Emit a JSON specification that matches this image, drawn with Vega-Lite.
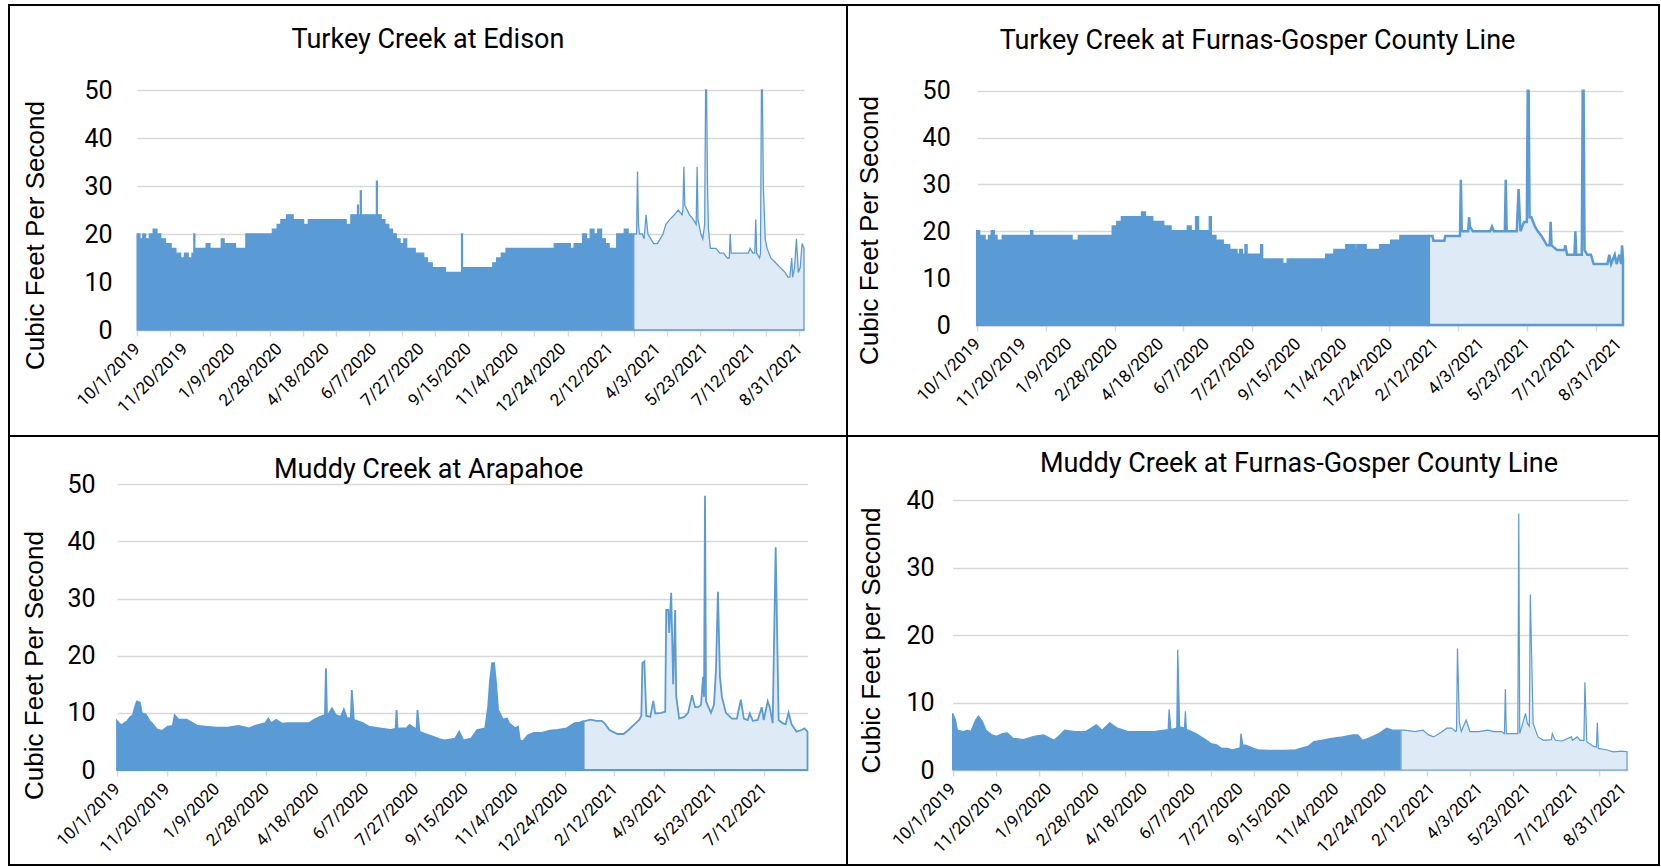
{
  "$schema": "https://vega.github.io/schema/vega-lite/v6.json",
  "padding": {"left": 8, "top": 4, "right": 0, "bottom": 0},
  "background": "white",
  "bounds": "flush",
  "spacing": 0,
  "columns": 2,
  "config": {
    "view": {"stroke": "#000000", "strokeWidth": 2},
    "font": "Roboto",
    "axis": {"labelFont": "Roboto", "labelColor": "#000000", "titleColor": "#000000", "gridColor": "#D9D9D9", "gridWidth": 1.5, "domainColor": "#D9D9D9", "domainWidth": 1.5, "tickColor": "#D9D9D9", "tickWidth": 1.5},
    "title": {"font": "Roboto", "fontSize": 27, "fontWeight": "normal", "color": "#000000", "frame": "group", "anchor": "middle", "baseline": "alphabetic"}
  },
  "datasets": {
    "edison": [
      {"date":"2019-10-01","cfs":20,"status":"A"},{"date":"2019-10-04","cfs":19,"status":"A"},{"date":"2019-10-07","cfs":20,"status":"A"},{"date":"2019-10-10","cfs":19,"status":"A"},{"date":"2019-10-14","cfs":20,"status":"A"},{"date":"2019-10-18","cfs":21,"status":"A"},{"date":"2019-10-22","cfs":20,"status":"A"},{"date":"2019-10-26","cfs":19,"status":"A"},{"date":"2019-10-31","cfs":18,"status":"A"},{"date":"2019-11-06","cfs":17,"status":"A"},{"date":"2019-11-11","cfs":16,"status":"A"},{"date":"2019-11-16","cfs":15,"status":"A"},{"date":"2019-11-20","cfs":16,"status":"A"},{"date":"2019-11-24","cfs":15,"status":"A"},{"date":"2019-11-28","cfs":16,"status":"A"},{"date":"2019-11-30","cfs":20,"status":"A"},{"date":"2019-12-01","cfs":17,"status":"A"},{"date":"2019-12-10","cfs":17,"status":"A"},{"date":"2019-12-13","cfs":18,"status":"A"},{"date":"2019-12-17","cfs":17,"status":"A"},{"date":"2019-12-26","cfs":17,"status":"A"},{"date":"2019-12-29","cfs":19,"status":"A"},
      {"date":"2020-01-01","cfs":18,"status":"A"},{"date":"2020-01-09","cfs":18,"status":"A"},{"date":"2020-01-13","cfs":17,"status":"A"},{"date":"2020-01-21","cfs":17,"status":"A"},{"date":"2020-01-24","cfs":20,"status":"A"},{"date":"2020-02-18","cfs":20,"status":"A"},{"date":"2020-02-21","cfs":21,"status":"A"},{"date":"2020-02-26","cfs":22,"status":"A"},{"date":"2020-03-01","cfs":23,"status":"A"},{"date":"2020-03-07","cfs":24,"status":"A"},{"date":"2020-03-14","cfs":23,"status":"A"},{"date":"2020-03-21","cfs":23,"status":"A"},{"date":"2020-03-25","cfs":22,"status":"A"},{"date":"2020-03-30","cfs":23,"status":"A"},{"date":"2020-04-11","cfs":23,"status":"A"},{"date":"2020-04-23","cfs":23,"status":"A"},{"date":"2020-05-03","cfs":23,"status":"A"},{"date":"2020-05-09","cfs":22,"status":"A"},{"date":"2020-05-14","cfs":24,"status":"A"},{"date":"2020-05-18","cfs":24,"status":"A"},{"date":"2020-05-21","cfs":26,"status":"A"},{"date":"2020-05-22","cfs":24,"status":"A"},{"date":"2020-05-24","cfs":29,"status":"A"},{"date":"2020-05-25","cfs":24,"status":"A"},{"date":"2020-06-02","cfs":24,"status":"A"},{"date":"2020-06-08","cfs":24,"status":"A"},{"date":"2020-06-10","cfs":31,"status":"A"},{"date":"2020-06-11","cfs":24,"status":"A"},{"date":"2020-06-15","cfs":23,"status":"A"},{"date":"2020-06-19","cfs":22,"status":"A"},{"date":"2020-06-23","cfs":21,"status":"A"},{"date":"2020-06-27","cfs":20,"status":"A"},{"date":"2020-07-01","cfs":19,"status":"A"},{"date":"2020-07-05","cfs":18,"status":"A"},{"date":"2020-07-09","cfs":19,"status":"A"},{"date":"2020-07-12","cfs":17,"status":"A"},{"date":"2020-07-17","cfs":17,"status":"A"},{"date":"2020-07-21","cfs":16,"status":"A"},{"date":"2020-07-25","cfs":16,"status":"A"},{"date":"2020-07-30","cfs":15,"status":"A"},{"date":"2020-08-03","cfs":14,"status":"A"},{"date":"2020-08-08","cfs":13,"status":"A"},{"date":"2020-08-16","cfs":13,"status":"A"},{"date":"2020-08-22","cfs":12,"status":"A"},{"date":"2020-08-29","cfs":12,"status":"A"},{"date":"2020-09-02","cfs":12,"status":"A"},{"date":"2020-09-08","cfs":20,"status":"A"},{"date":"2020-09-09","cfs":13,"status":"A"},{"date":"2020-09-25","cfs":13,"status":"A"},{"date":"2020-10-07","cfs":13,"status":"A"},{"date":"2020-10-11","cfs":14,"status":"A"},{"date":"2020-10-15","cfs":15,"status":"A"},{"date":"2020-10-20","cfs":16,"status":"A"},{"date":"2020-10-25","cfs":17,"status":"A"},{"date":"2020-11-04","cfs":17,"status":"A"},{"date":"2020-11-24","cfs":17,"status":"A"},{"date":"2020-12-13","cfs":17,"status":"A"},{"date":"2020-12-15","cfs":18,"status":"A"},{"date":"2020-12-29","cfs":18,"status":"A"},
      {"date":"2021-01-01","cfs":17,"status":"A"},{"date":"2021-01-05","cfs":18,"status":"A"},{"date":"2021-01-11","cfs":18,"status":"A"},{"date":"2021-01-14","cfs":20,"status":"A"},{"date":"2021-01-18","cfs":19,"status":"A"},{"date":"2021-01-22","cfs":21,"status":"A"},{"date":"2021-01-26","cfs":20,"status":"A"},{"date":"2021-01-30","cfs":21,"status":"A"},{"date":"2021-02-03","cfs":19,"status":"A"},{"date":"2021-02-07","cfs":18,"status":"A"},{"date":"2021-02-11","cfs":17,"status":"A"},{"date":"2021-02-15","cfs":17,"status":"A"},{"date":"2021-02-19","cfs":20,"status":"A"},{"date":"2021-02-23","cfs":20,"status":"A"},{"date":"2021-02-27","cfs":21,"status":"A"},{"date":"2021-03-03","cfs":20,"status":"A"},{"date":"2021-03-08","cfs":20,"status":"A"},
      {"date":"2021-03-09","cfs":20,"status":"P"},{"date":"2021-03-12","cfs":20,"status":"P"},{"date":"2021-03-13","cfs":33,"status":"P"},{"date":"2021-03-14","cfs":22,"status":"P"},{"date":"2021-03-15","cfs":20,"status":"P"},{"date":"2021-03-18","cfs":20,"status":"P"},{"date":"2021-03-20","cfs":19,"status":"P"},{"date":"2021-03-22","cfs":24,"status":"P"},{"date":"2021-03-24","cfs":20,"status":"P"},{"date":"2021-03-27","cfs":19,"status":"P"},{"date":"2021-03-30","cfs":18,"status":"P"},{"date":"2021-04-03","cfs":18,"status":"P"},{"date":"2021-04-06","cfs":19,"status":"P"},{"date":"2021-04-09","cfs":20,"status":"P"},{"date":"2021-04-12","cfs":22,"status":"P"},{"date":"2021-04-16","cfs":23,"status":"P"},{"date":"2021-04-21","cfs":24,"status":"P"},{"date":"2021-04-25","cfs":25,"status":"P"},{"date":"2021-04-29","cfs":24,"status":"P"},{"date":"2021-04-30","cfs":25,"status":"P"},{"date":"2021-05-01","cfs":34,"status":"P"},{"date":"2021-05-02","cfs":26,"status":"P"},{"date":"2021-05-07","cfs":24,"status":"P"},{"date":"2021-05-11","cfs":23,"status":"P"},{"date":"2021-05-14","cfs":22,"status":"P"},{"date":"2021-05-15","cfs":34,"status":"P"},{"date":"2021-05-16","cfs":23,"status":"P"},{"date":"2021-05-19","cfs":20,"status":"P"},{"date":"2021-05-21","cfs":19,"status":"P"},{"date":"2021-05-23","cfs":22,"status":"P"},{"date":"2021-05-24","cfs":150,"status":"P"},{"date":"2021-05-25","cfs":120,"status":"P"},{"date":"2021-05-26","cfs":30,"status":"P"},{"date":"2021-05-27","cfs":21,"status":"P"},{"date":"2021-05-29","cfs":17,"status":"P"},{"date":"2021-06-04","cfs":17,"status":"P"},{"date":"2021-06-08","cfs":16,"status":"P"},{"date":"2021-06-12","cfs":16,"status":"P"},{"date":"2021-06-16","cfs":15,"status":"P"},{"date":"2021-06-18","cfs":15,"status":"P"},{"date":"2021-06-19","cfs":20,"status":"P"},{"date":"2021-06-20","cfs":16,"status":"P"},{"date":"2021-07-02","cfs":16,"status":"P"},{"date":"2021-07-08","cfs":16,"status":"P"},{"date":"2021-07-10","cfs":17,"status":"P"},{"date":"2021-07-13","cfs":16,"status":"P"},{"date":"2021-07-15","cfs":16,"status":"P"},{"date":"2021-07-16","cfs":23,"status":"P"},{"date":"2021-07-17","cfs":16,"status":"P"},{"date":"2021-07-20","cfs":15,"status":"P"},{"date":"2021-07-21","cfs":16,"status":"P"},{"date":"2021-07-22","cfs":150,"status":"P"},{"date":"2021-07-23","cfs":110,"status":"P"},{"date":"2021-07-24","cfs":30,"status":"P"},{"date":"2021-07-26","cfs":19,"status":"P"},{"date":"2021-07-28","cfs":17,"status":"P"},{"date":"2021-08-01","cfs":15,"status":"P"},{"date":"2021-08-06","cfs":14,"status":"P"},{"date":"2021-08-11","cfs":13,"status":"P"},{"date":"2021-08-16","cfs":12,"status":"P"},{"date":"2021-08-19","cfs":11,"status":"P"},{"date":"2021-08-21","cfs":11,"status":"P"},{"date":"2021-08-23","cfs":15,"status":"P"},{"date":"2021-08-24","cfs":11,"status":"P"},{"date":"2021-08-26","cfs":13,"status":"P"},{"date":"2021-08-28","cfs":19,"status":"P"},{"date":"2021-08-30","cfs":12,"status":"P"},{"date":"2021-09-01","cfs":13,"status":"P"},{"date":"2021-09-03","cfs":18,"status":"P"},{"date":"2021-09-05","cfs":17,"status":"P"}
    ],
    "turkeyFG": [
      {"date":"2019-10-01","cfs":20,"status":"A"},{"date":"2019-10-03","cfs":19,"status":"A"},{"date":"2019-10-05","cfs":18,"status":"A"},{"date":"2019-10-07","cfs":19,"status":"A"},{"date":"2019-10-09","cfs":18,"status":"A"},{"date":"2019-10-14","cfs":19,"status":"A"},{"date":"2019-10-17","cfs":20,"status":"A"},{"date":"2019-10-19","cfs":19,"status":"A"},{"date":"2019-10-22","cfs":18,"status":"A"},{"date":"2019-10-29","cfs":19,"status":"A"},{"date":"2019-11-29","cfs":20,"status":"A"},{"date":"2019-11-30","cfs":19,"status":"A"},
      {"date":"2020-01-12","cfs":18,"status":"A"},{"date":"2020-01-20","cfs":19,"status":"A"},{"date":"2020-02-26","cfs":21,"status":"A"},{"date":"2020-03-02","cfs":22,"status":"A"},{"date":"2020-03-07","cfs":23,"status":"A"},{"date":"2020-03-29","cfs":24,"status":"A"},{"date":"2020-04-01","cfs":23,"status":"A"},{"date":"2020-04-09","cfs":22,"status":"A"},{"date":"2020-04-21","cfs":21,"status":"A"},{"date":"2020-04-29","cfs":20,"status":"A"},{"date":"2020-05-18","cfs":21,"status":"A"},{"date":"2020-05-21","cfs":20,"status":"A"},{"date":"2020-05-27","cfs":23,"status":"A"},{"date":"2020-05-29","cfs":20,"status":"A"},{"date":"2020-06-11","cfs":23,"status":"A"},{"date":"2020-06-12","cfs":19,"status":"A"},{"date":"2020-06-17","cfs":18,"status":"A"},{"date":"2020-06-25","cfs":17,"status":"A"},{"date":"2020-07-02","cfs":16,"status":"A"},{"date":"2020-07-10","cfs":15,"status":"A"},{"date":"2020-07-14","cfs":16,"status":"A"},{"date":"2020-07-16","cfs":15,"status":"A"},{"date":"2020-07-20","cfs":17,"status":"A"},{"date":"2020-07-21","cfs":15,"status":"A"},{"date":"2020-08-06","cfs":17,"status":"A"},{"date":"2020-08-07","cfs":14,"status":"A"},{"date":"2020-08-29","cfs":13,"status":"A"},{"date":"2020-09-04","cfs":14,"status":"A"},{"date":"2020-10-16","cfs":15,"status":"A"},{"date":"2020-10-25","cfs":16,"status":"A"},{"date":"2020-11-07","cfs":17,"status":"A"},{"date":"2020-11-16","cfs":16,"status":"A"},{"date":"2020-11-19","cfs":17,"status":"A"},{"date":"2020-11-28","cfs":16,"status":"A"},{"date":"2020-12-14","cfs":17,"status":"A"},{"date":"2020-12-26","cfs":18,"status":"A"},
      {"date":"2021-01-05","cfs":19,"status":"A"},{"date":"2021-02-04","cfs":19,"status":"A"},
      {"date":"2021-02-05","cfs":19,"status":"P"},{"date":"2021-02-09","cfs":19,"status":"P"},{"date":"2021-02-10","cfs":18,"status":"P"},{"date":"2021-02-22","cfs":18,"status":"P"},{"date":"2021-02-23","cfs":19,"status":"P"},{"date":"2021-03-11","cfs":19,"status":"P"},{"date":"2021-03-12","cfs":31,"status":"P"},{"date":"2021-03-13","cfs":20,"status":"P"},{"date":"2021-03-20","cfs":20,"status":"P"},{"date":"2021-03-21","cfs":23,"status":"P"},{"date":"2021-03-22","cfs":21,"status":"P"},{"date":"2021-03-25","cfs":20,"status":"P"},{"date":"2021-04-13","cfs":20,"status":"P"},{"date":"2021-04-15","cfs":21,"status":"P"},{"date":"2021-04-17","cfs":20,"status":"P"},{"date":"2021-04-29","cfs":20,"status":"P"},{"date":"2021-04-30","cfs":31,"status":"P"},{"date":"2021-05-01","cfs":20,"status":"P"},{"date":"2021-05-12","cfs":20,"status":"P"},{"date":"2021-05-14","cfs":29,"status":"P"},{"date":"2021-05-16","cfs":20,"status":"P"},{"date":"2021-05-20","cfs":22,"status":"P"},{"date":"2021-05-23","cfs":22,"status":"P"},{"date":"2021-05-24","cfs":150,"status":"P"},{"date":"2021-05-25","cfs":110,"status":"P"},{"date":"2021-05-26","cfs":23,"status":"P"},{"date":"2021-05-28","cfs":23,"status":"P"},{"date":"2021-06-01","cfs":21,"status":"P"},{"date":"2021-06-04","cfs":20,"status":"P"},{"date":"2021-06-08","cfs":19,"status":"P"},{"date":"2021-06-11","cfs":18,"status":"P"},{"date":"2021-06-14","cfs":17,"status":"P"},{"date":"2021-06-17","cfs":17,"status":"P"},{"date":"2021-06-18","cfs":22,"status":"P"},{"date":"2021-06-19","cfs":17,"status":"P"},{"date":"2021-06-25","cfs":16,"status":"P"},{"date":"2021-07-03","cfs":16,"status":"P"},{"date":"2021-07-04","cfs":17,"status":"P"},{"date":"2021-07-06","cfs":15,"status":"P"},{"date":"2021-07-14","cfs":15,"status":"P"},{"date":"2021-07-15","cfs":20,"status":"P"},{"date":"2021-07-16","cfs":15,"status":"P"},{"date":"2021-07-22","cfs":15,"status":"P"},{"date":"2021-07-23","cfs":150,"status":"P"},{"date":"2021-07-24","cfs":100,"status":"P"},{"date":"2021-07-25","cfs":16,"status":"P"},{"date":"2021-07-28","cfs":15,"status":"P"},{"date":"2021-08-01","cfs":15,"status":"P"},{"date":"2021-08-04","cfs":13,"status":"P"},{"date":"2021-08-19","cfs":13,"status":"P"},{"date":"2021-08-21","cfs":15,"status":"P"},{"date":"2021-08-23","cfs":13,"status":"P"},{"date":"2021-08-27","cfs":15,"status":"P"},{"date":"2021-08-29","cfs":13,"status":"P"},{"date":"2021-09-01","cfs":15,"status":"P"},{"date":"2021-09-03","cfs":13,"status":"P"},{"date":"2021-09-04","cfs":17,"status":"P"},{"date":"2021-09-05","cfs":14,"status":"P"}
    ],
    "arapahoe": [
      {"date":"2019-10-01","cfs":8.6,"status":"A"},{"date":"2019-10-04","cfs":8.0,"status":"A"},{"date":"2019-10-06","cfs":7.9,"status":"A"},{"date":"2019-10-09","cfs":8.3,"status":"A"},{"date":"2019-10-11","cfs":8.5,"status":"A"},{"date":"2019-10-14","cfs":9.2,"status":"A"},{"date":"2019-10-17","cfs":9.6,"status":"A"},{"date":"2019-10-19","cfs":11,"status":"A"},{"date":"2019-10-21","cfs":12,"status":"A"},{"date":"2019-10-24","cfs":11.8,"status":"A"},{"date":"2019-10-26","cfs":9.9,"status":"A"},{"date":"2019-10-30","cfs":9.7,"status":"A"},{"date":"2019-11-03","cfs":8.5,"status":"A"},{"date":"2019-11-05","cfs":8.2,"status":"A"},{"date":"2019-11-10","cfs":7.1,"status":"A"},{"date":"2019-11-14","cfs":6.9,"status":"A"},{"date":"2019-11-16","cfs":6.9,"status":"A"},{"date":"2019-11-21","cfs":7.6,"status":"A"},{"date":"2019-11-26","cfs":7.7,"status":"A"},{"date":"2019-11-28","cfs":9.6,"status":"A"},{"date":"2019-12-02","cfs":8.8,"status":"A"},{"date":"2019-12-10","cfs":8.8,"status":"A"},{"date":"2019-12-16","cfs":8.2,"status":"A"},{"date":"2019-12-21","cfs":7.7,"status":"A"},{"date":"2019-12-29","cfs":7.6,"status":"A"},
      {"date":"2020-01-09","cfs":7.4,"status":"A"},{"date":"2020-01-20","cfs":7.4,"status":"A"},{"date":"2020-01-31","cfs":7.7,"status":"A"},{"date":"2020-02-11","cfs":7.3,"status":"A"},{"date":"2020-02-16","cfs":7.7,"status":"A"},{"date":"2020-02-27","cfs":8.2,"status":"A"},{"date":"2020-03-01","cfs":9.0,"status":"A"},{"date":"2020-03-04","cfs":8.2,"status":"A"},{"date":"2020-03-09","cfs":8.8,"status":"A"},{"date":"2020-03-15","cfs":8.1,"status":"A"},{"date":"2020-03-20","cfs":8.2,"status":"A"},{"date":"2020-03-31","cfs":8.2,"status":"A"},{"date":"2020-04-11","cfs":8.2,"status":"A"},{"date":"2020-04-16","cfs":8.8,"status":"A"},{"date":"2020-04-22","cfs":9.3,"status":"A"},{"date":"2020-04-27","cfs":9.6,"status":"A"},{"date":"2020-04-28","cfs":17.8,"status":"A"},{"date":"2020-04-29","cfs":10,"status":"A"},{"date":"2020-04-30","cfs":9.6,"status":"A"},{"date":"2020-05-04","cfs":10.8,"status":"A"},{"date":"2020-05-08","cfs":9.6,"status":"A"},{"date":"2020-05-13","cfs":9.3,"status":"A"},{"date":"2020-05-16","cfs":10.6,"status":"A"},{"date":"2020-05-19","cfs":9.1,"status":"A"},{"date":"2020-05-23","cfs":9.0,"status":"A"},{"date":"2020-05-24","cfs":14,"status":"A"},{"date":"2020-05-26","cfs":8.8,"status":"A"},{"date":"2020-06-04","cfs":8.2,"status":"A"},{"date":"2020-06-10","cfs":7.6,"status":"A"},{"date":"2020-06-21","cfs":7.3,"status":"A"},{"date":"2020-07-02","cfs":7.0,"status":"A"},{"date":"2020-07-07","cfs":7.2,"status":"A"},{"date":"2020-07-08","cfs":10.5,"status":"A"},{"date":"2020-07-09","cfs":7.2,"status":"A"},{"date":"2020-07-12","cfs":7.3,"status":"A"},{"date":"2020-07-18","cfs":7.3,"status":"A"},{"date":"2020-07-21","cfs":7.9,"status":"A"},{"date":"2020-07-27","cfs":7.2,"status":"A"},{"date":"2020-07-28","cfs":7.0,"status":"A"},{"date":"2020-07-29","cfs":10.5,"status":"A"},{"date":"2020-07-31","cfs":6.7,"status":"A"},{"date":"2020-08-09","cfs":6.1,"status":"A"},{"date":"2020-08-14","cfs":5.8,"status":"A"},{"date":"2020-08-20","cfs":5.4,"status":"A"},{"date":"2020-08-25","cfs":5.2,"status":"A"},{"date":"2020-09-05","cfs":5.5,"status":"A"},{"date":"2020-09-09","cfs":6.7,"status":"A"},{"date":"2020-09-13","cfs":5.2,"status":"A"},{"date":"2020-09-21","cfs":5.5,"status":"A"},{"date":"2020-09-27","cfs":7.0,"status":"A"},{"date":"2020-10-05","cfs":7.3,"status":"A"},{"date":"2020-10-08","cfs":11,"status":"A"},{"date":"2020-10-10","cfs":15.8,"status":"A"},{"date":"2020-10-12","cfs":18.7,"status":"A"},{"date":"2020-10-14","cfs":18.7,"status":"A"},{"date":"2020-10-16","cfs":15.2,"status":"A"},{"date":"2020-10-18","cfs":10.5,"status":"A"},{"date":"2020-10-23","cfs":8.8,"status":"A"},{"date":"2020-10-27","cfs":9.0,"status":"A"},{"date":"2020-10-29","cfs":8.2,"status":"A"},{"date":"2020-11-04","cfs":7.3,"status":"A"},{"date":"2020-11-07","cfs":7.6,"status":"A"},{"date":"2020-11-09","cfs":5.2,"status":"A"},{"date":"2020-11-12","cfs":5.0,"status":"A"},{"date":"2020-11-17","cfs":6.1,"status":"A"},{"date":"2020-11-23","cfs":6.5,"status":"A"},{"date":"2020-12-01","cfs":6.5,"status":"A"},{"date":"2020-12-09","cfs":6.9,"status":"A"},{"date":"2020-12-17","cfs":7.0,"status":"A"},{"date":"2020-12-26","cfs":7.3,"status":"A"},
      {"date":"2021-01-03","cfs":8.2,"status":"A"},{"date":"2021-01-08","cfs":8.3,"status":"A"},{"date":"2021-01-11","cfs":8.5,"status":"A"},
      {"date":"2021-01-12","cfs":8.5,"status":"P"},{"date":"2021-01-19","cfs":8.8,"status":"P"},{"date":"2021-01-25","cfs":8.6,"status":"P"},{"date":"2021-01-30","cfs":8.6,"status":"P"},{"date":"2021-02-02","cfs":8.2,"status":"P"},{"date":"2021-02-07","cfs":7.0,"status":"P"},{"date":"2021-02-15","cfs":6.3,"status":"P"},{"date":"2021-02-21","cfs":6.3,"status":"P"},{"date":"2021-02-26","cfs":7.0,"status":"P"},{"date":"2021-03-04","cfs":8.0,"status":"P"},{"date":"2021-03-09","cfs":8.8,"status":"P"},{"date":"2021-03-11","cfs":9.5,"status":"P"},{"date":"2021-03-12","cfs":18.7,"status":"P"},{"date":"2021-03-14","cfs":19,"status":"P"},{"date":"2021-03-16","cfs":9.5,"status":"P"},{"date":"2021-03-20","cfs":9.3,"status":"P"},{"date":"2021-03-23","cfs":12.1,"status":"P"},{"date":"2021-03-25","cfs":9.9,"status":"P"},{"date":"2021-03-31","cfs":10,"status":"P"},{"date":"2021-04-04","cfs":10.2,"status":"P"},{"date":"2021-04-05","cfs":28,"status":"P"},{"date":"2021-04-07","cfs":28,"status":"P"},{"date":"2021-04-08","cfs":24,"status":"P"},{"date":"2021-04-10","cfs":31,"status":"P"},{"date":"2021-04-12","cfs":15,"status":"P"},{"date":"2021-04-14","cfs":28,"status":"P"},{"date":"2021-04-15","cfs":13,"status":"P"},{"date":"2021-04-18","cfs":9,"status":"P"},{"date":"2021-04-23","cfs":9.3,"status":"P"},{"date":"2021-04-27","cfs":10,"status":"P"},{"date":"2021-05-01","cfs":13.1,"status":"P"},{"date":"2021-05-04","cfs":11,"status":"P"},{"date":"2021-05-07","cfs":11,"status":"P"},{"date":"2021-05-10","cfs":11.4,"status":"P"},{"date":"2021-05-12","cfs":16.3,"status":"P"},{"date":"2021-05-13","cfs":12.8,"status":"P"},{"date":"2021-05-14","cfs":48,"status":"P"},{"date":"2021-05-15","cfs":12,"status":"P"},{"date":"2021-05-20","cfs":10,"status":"P"},{"date":"2021-05-23","cfs":11.4,"status":"P"},{"date":"2021-05-25","cfs":17.5,"status":"P"},{"date":"2021-05-27","cfs":31.2,"status":"P"},{"date":"2021-05-29","cfs":16.3,"status":"P"},{"date":"2021-05-31","cfs":12.8,"status":"P"},{"date":"2021-06-04","cfs":10,"status":"P"},{"date":"2021-06-10","cfs":9,"status":"P"},{"date":"2021-06-15","cfs":9,"status":"P"},{"date":"2021-06-19","cfs":12.3,"status":"P"},{"date":"2021-06-22","cfs":9,"status":"P"},{"date":"2021-06-26","cfs":8.75,"status":"P"},{"date":"2021-06-28","cfs":9.9,"status":"P"},{"date":"2021-07-01","cfs":8.6,"status":"P"},{"date":"2021-07-06","cfs":8.75,"status":"P"},{"date":"2021-07-10","cfs":11,"status":"P"},{"date":"2021-07-12","cfs":8.75,"status":"P"},{"date":"2021-07-16","cfs":12,"status":"P"},{"date":"2021-07-18","cfs":11,"status":"P"},{"date":"2021-07-21","cfs":8.2,"status":"P"},{"date":"2021-07-24","cfs":39,"status":"P"},{"date":"2021-07-27","cfs":8.75,"status":"P"},{"date":"2021-07-31","cfs":8.2,"status":"P"},{"date":"2021-08-03","cfs":8.0,"status":"P"},{"date":"2021-08-06","cfs":10,"status":"P"},{"date":"2021-08-09","cfs":8.0,"status":"P"},{"date":"2021-08-14","cfs":6.7,"status":"P"},{"date":"2021-08-19","cfs":7.0,"status":"P"},{"date":"2021-08-22","cfs":7.3,"status":"P"},{"date":"2021-08-25","cfs":6.7,"status":"P"}
    ],
    "muddyFG": [
      {"date":"2019-10-01","cfs":8.4,"status":"A"},{"date":"2019-10-04","cfs":7.4,"status":"A"},{"date":"2019-10-06","cfs":5.9,"status":"A"},{"date":"2019-10-12","cfs":5.7,"status":"A"},{"date":"2019-10-17","cfs":5.9,"status":"A"},{"date":"2019-10-20","cfs":5.7,"status":"A"},{"date":"2019-10-25","cfs":7.4,"status":"A"},{"date":"2019-10-28","cfs":8.0,"status":"A"},{"date":"2019-11-01","cfs":7.2,"status":"A"},{"date":"2019-11-05","cfs":5.9,"status":"A"},{"date":"2019-11-11","cfs":5.2,"status":"A"},{"date":"2019-11-16","cfs":5.0,"status":"A"},{"date":"2019-11-22","cfs":5.4,"status":"A"},{"date":"2019-11-27","cfs":5.5,"status":"A"},{"date":"2019-12-03","cfs":4.7,"status":"A"},{"date":"2019-12-14","cfs":4.5,"status":"A"},{"date":"2019-12-25","cfs":5.0,"status":"A"},
      {"date":"2020-01-04","cfs":5.2,"status":"A"},{"date":"2020-01-15","cfs":4.4,"status":"A"},{"date":"2020-01-21","cfs":5.2,"status":"A"},{"date":"2020-01-26","cfs":5.9,"status":"A"},{"date":"2020-02-06","cfs":5.7,"status":"A"},{"date":"2020-02-17","cfs":5.7,"status":"A"},{"date":"2020-02-28","cfs":6.7,"status":"A"},{"date":"2020-03-05","cfs":5.9,"status":"A"},{"date":"2020-03-13","cfs":7.0,"status":"A"},{"date":"2020-03-21","cfs":6.2,"status":"A"},{"date":"2020-04-01","cfs":5.7,"status":"A"},{"date":"2020-04-12","cfs":5.7,"status":"A"},{"date":"2020-04-28","cfs":5.7,"status":"A"},{"date":"2020-05-09","cfs":5.9,"status":"A"},{"date":"2020-05-13","cfs":6.0,"status":"A"},{"date":"2020-05-14","cfs":9,"status":"A"},{"date":"2020-05-16","cfs":6.0,"status":"A"},{"date":"2020-05-22","cfs":6.2,"status":"A"},{"date":"2020-05-23","cfs":17.8,"status":"A"},{"date":"2020-05-25","cfs":6.4,"status":"A"},{"date":"2020-05-30","cfs":6.2,"status":"A"},{"date":"2020-05-31","cfs":8.7,"status":"A"},{"date":"2020-06-01","cfs":6.0,"status":"A"},{"date":"2020-06-03","cfs":5.9,"status":"A"},{"date":"2020-06-11","cfs":5.4,"status":"A"},{"date":"2020-06-22","cfs":4.4,"status":"A"},{"date":"2020-06-27","cfs":3.9,"status":"A"},{"date":"2020-07-03","cfs":3.7,"status":"A"},{"date":"2020-07-08","cfs":3.2,"status":"A"},{"date":"2020-07-14","cfs":3.2,"status":"A"},{"date":"2020-07-19","cfs":3.0,"status":"A"},{"date":"2020-07-25","cfs":3.2,"status":"A"},{"date":"2020-07-27","cfs":3.3,"status":"A"},{"date":"2020-07-28","cfs":5.4,"status":"A"},{"date":"2020-07-30","cfs":3.7,"status":"A"},{"date":"2020-08-02","cfs":3.7,"status":"A"},{"date":"2020-08-10","cfs":3.2,"status":"A"},{"date":"2020-08-15","cfs":3.0,"status":"A"},{"date":"2020-08-26","cfs":2.9,"status":"A"},{"date":"2020-09-12","cfs":2.9,"status":"A"},{"date":"2020-09-23","cfs":3.0,"status":"A"},{"date":"2020-09-28","cfs":3.2,"status":"A"},{"date":"2020-10-06","cfs":3.5,"status":"A"},{"date":"2020-10-12","cfs":4.2,"status":"A"},{"date":"2020-10-20","cfs":4.4,"status":"A"},{"date":"2020-10-31","cfs":4.7,"status":"A"},{"date":"2020-11-11","cfs":4.9,"status":"A"},{"date":"2020-11-22","cfs":5.2,"status":"A"},{"date":"2020-11-27","cfs":5.2,"status":"A"},{"date":"2020-12-02","cfs":4.4,"status":"A"},{"date":"2020-12-08","cfs":4.7,"status":"A"},{"date":"2020-12-19","cfs":5.4,"status":"A"},{"date":"2020-12-27","cfs":6.2,"status":"A"},
      {"date":"2021-01-02","cfs":5.9,"status":"A"},{"date":"2021-01-10","cfs":5.9,"status":"A"},
      {"date":"2021-01-11","cfs":5.9,"status":"P"},{"date":"2021-01-15","cfs":5.9,"status":"P"},{"date":"2021-01-26","cfs":5.7,"status":"P"},{"date":"2021-02-03","cfs":5.9,"status":"P"},{"date":"2021-02-09","cfs":5.2,"status":"P"},{"date":"2021-02-14","cfs":4.9,"status":"P"},{"date":"2021-02-20","cfs":5.4,"status":"P"},{"date":"2021-02-28","cfs":6.2,"status":"P"},{"date":"2021-03-05","cfs":6.2,"status":"P"},{"date":"2021-03-09","cfs":5.7,"status":"P"},{"date":"2021-03-10","cfs":5.8,"status":"P"},{"date":"2021-03-11","cfs":18,"status":"P"},{"date":"2021-03-13","cfs":7.0,"status":"P"},{"date":"2021-03-15","cfs":5.7,"status":"P"},{"date":"2021-03-20","cfs":7.4,"status":"P"},{"date":"2021-03-24","cfs":5.7,"status":"P"},{"date":"2021-04-02","cfs":5.7,"status":"P"},{"date":"2021-04-12","cfs":5.9,"status":"P"},{"date":"2021-04-18","cfs":5.7,"status":"P"},{"date":"2021-04-26","cfs":5.7,"status":"P"},{"date":"2021-04-29","cfs":5.4,"status":"P"},{"date":"2021-04-30","cfs":12,"status":"P"},{"date":"2021-05-01","cfs":5.4,"status":"P"},{"date":"2021-05-13","cfs":5.4,"status":"P"},{"date":"2021-05-14","cfs":38,"status":"P"},{"date":"2021-05-15","cfs":5.4,"status":"P"},{"date":"2021-05-21","cfs":8.4,"status":"P"},{"date":"2021-05-23","cfs":6.9,"status":"P"},{"date":"2021-05-25","cfs":6.5,"status":"P"},{"date":"2021-05-26","cfs":26,"status":"P"},{"date":"2021-05-29","cfs":6.9,"status":"P"},{"date":"2021-06-03","cfs":4.9,"status":"P"},{"date":"2021-06-09","cfs":4.4,"status":"P"},{"date":"2021-06-17","cfs":4.5,"status":"P"},{"date":"2021-06-18","cfs":5.4,"status":"P"},{"date":"2021-06-21","cfs":4.4,"status":"P"},{"date":"2021-06-28","cfs":4.3,"status":"P"},{"date":"2021-07-08","cfs":4.9,"status":"P"},{"date":"2021-07-09","cfs":4.4,"status":"P"},{"date":"2021-07-14","cfs":4.9,"status":"P"},{"date":"2021-07-17","cfs":4.4,"status":"P"},{"date":"2021-07-21","cfs":4.4,"status":"P"},{"date":"2021-07-22","cfs":13,"status":"P"},{"date":"2021-07-24","cfs":4.2,"status":"P"},{"date":"2021-07-31","cfs":3.5,"status":"P"},{"date":"2021-08-03","cfs":3.4,"status":"P"},{"date":"2021-08-04","cfs":7,"status":"P"},{"date":"2021-08-05","cfs":3.2,"status":"P"},{"date":"2021-08-13","cfs":3.0,"status":"P"},{"date":"2021-08-21","cfs":2.7,"status":"P"},{"date":"2021-08-29","cfs":2.8,"status":"P"},{"date":"2021-09-04","cfs":2.7,"status":"P"}
    ]
  },
  "concat": [
    {
      "width": 838, "height": 431,
      "title": {"text": "Turkey Creek at Edison", "offset": -49.3},
      "data": {"name": "edison"},
      "layer": [
        {
          "transform": [{"filter": "datum.status === 'A'"}],
          "mark": {"type": "area", "interpolate": "step-after", "fill": "#5B9BD5", "stroke": "#5B9BD5", "strokeWidth": 1.3},
          "encoding": {
            "x": {"field": "date", "type": "temporal",
              "scale": {"type": "utc", "domain": [{"year":2019,"month":10,"date":1,"utc":true},{"year":2021,"month":9,"date":5,"utc":true}], "range": [128.1, 795]},
              "axis": {"orient": "bottom", "offset": -106, "labels": false, "ticks": true, "tickSize": 6, "domain": true, "grid": false, "title": null,
                "values": [{"year":2019,"month":10,"date":1,"utc":true},{"year":2019,"month":11,"date":5,"utc":true},{"year":2019,"month":12,"date":10,"utc":true},{"year":2020,"month":1,"date":14,"utc":true},{"year":2020,"month":2,"date":18,"utc":true},{"year":2020,"month":3,"date":24,"utc":true},{"year":2020,"month":4,"date":28,"utc":true},{"year":2020,"month":6,"date":2,"utc":true},{"year":2020,"month":7,"date":7,"utc":true},{"year":2020,"month":8,"date":11,"utc":true},{"year":2020,"month":9,"date":15,"utc":true},{"year":2020,"month":10,"date":20,"utc":true},{"year":2020,"month":11,"date":24,"utc":true},{"year":2020,"month":12,"date":29,"utc":true},{"year":2021,"month":2,"date":2,"utc":true},{"year":2021,"month":3,"date":9,"utc":true},{"year":2021,"month":4,"date":13,"utc":true},{"year":2021,"month":5,"date":18,"utc":true},{"year":2021,"month":6,"date":22,"utc":true},{"year":2021,"month":7,"date":27,"utc":true},{"year":2021,"month":8,"date":31,"utc":true}]}},
            "y": {"field": "cfs", "type": "quantitative",
              "scale": {"domain": [0, 50], "range": [325, 85], "clamp": true, "nice": false},
              "axis": {"offset": -128.1, "values": [0,10,20,30,40,50], "grid": true, "domain": false, "ticks": false, "tickSize": 0, "labelPadding": 25, "labelFontSize": 25,
                "title": "Cubic Feet Per Second", "titleFont": "Liberation Sans", "titleFontSize": 26, "titleFontWeight": "normal", "titleX": -94, "titleY": 230, "titleAngle": -90, "titleAlign": "center", "titleBaseline": "alphabetic"}}
          }
        },
        {
          "transform": [{"filter": "datum.status === 'P'"}],
          "mark": {"type": "area", "fill": "#DEEAF6", "stroke": "#5B9BD5", "strokeWidth": 1.3},
          "encoding": {
            "x": {"field": "date", "type": "temporal",
              "scale": {"type": "utc", "domain": [{"year":2019,"month":10,"date":1,"utc":true},{"year":2021,"month":9,"date":5,"utc":true}], "range": [128.1, 795]},
              "axis": {"orient": "bottom", "offset": -106, "labels": true, "ticks": false, "tickSize": 0, "domain": false, "grid": false, "title": null,
                "labelAngle": -45, "labelAlign": "right", "labelBaseline": "middle", "labelPadding": 16, "labelFontSize": 17, "labelOverlap": false, "labelFlush": false, "labelExpr": "utcFormat(datum.value, '%-m/%-d/%Y')",
                "values": [{"year":2019,"month":10,"date":1,"utc":true},{"year":2019,"month":11,"date":20,"utc":true},{"year":2020,"month":1,"date":9,"utc":true},{"year":2020,"month":2,"date":28,"utc":true},{"year":2020,"month":4,"date":18,"utc":true},{"year":2020,"month":6,"date":7,"utc":true},{"year":2020,"month":7,"date":27,"utc":true},{"year":2020,"month":9,"date":15,"utc":true},{"year":2020,"month":11,"date":4,"utc":true},{"year":2020,"month":12,"date":24,"utc":true},{"year":2021,"month":2,"date":12,"utc":true},{"year":2021,"month":4,"date":3,"utc":true},{"year":2021,"month":5,"date":23,"utc":true},{"year":2021,"month":7,"date":12,"utc":true},{"year":2021,"month":8,"date":31,"utc":true}]}},
            "y": {"field": "cfs", "type": "quantitative",
              "scale": {"domain": [0, 50], "range": [325, 85], "clamp": true, "nice": false},
              "axis": {"offset": -128.1, "values": [0,10,20,30,40,50], "grid": true, "domain": false, "ticks": false, "tickSize": 0, "labelPadding": 25, "labelFontSize": 25,
                "title": "Cubic Feet Per Second", "titleFont": "Liberation Sans", "titleFontSize": 26, "titleFontWeight": "normal", "titleX": -94, "titleY": 230, "titleAngle": -90, "titleAlign": "center", "titleBaseline": "alphabetic"}}
          }
        }
      ],
      "resolve": {"axis": {"x": "independent"}}
    },
    {
      "width": 812, "height": 431,
      "title": {"text": "Turkey Creek at Furnas-Gosper County Line", "offset": -50, "dx": 4.5},
      "data": {"name": "turkeyFG"},
      "layer": [
        {
          "transform": [{"filter": "datum.status === 'A'"}],
          "mark": {"type": "area", "interpolate": "step-after", "fill": "#5B9BD5", "stroke": "#5B9BD5", "strokeWidth": 2.5},
          "encoding": {
            "x": {"field": "date", "type": "temporal",
              "scale": {"type": "utc", "domain": [{"year":2019,"month":10,"date":1,"utc":true},{"year":2021,"month":9,"date":5,"utc":true}], "range": [130.2, 776]},
              "axis": {"orient": "bottom", "offset": -111, "labels": false, "ticks": true, "tickSize": 6, "domain": true, "grid": false, "title": null,
                "values": [{"year":2019,"month":10,"date":1,"utc":true},{"year":2019,"month":12,"date":15,"utc":true},{"year":2020,"month":2,"date":28,"utc":true},{"year":2020,"month":5,"date":13,"utc":true},{"year":2020,"month":7,"date":27,"utc":true},{"year":2020,"month":10,"date":10,"utc":true},{"year":2020,"month":12,"date":24,"utc":true},{"year":2021,"month":3,"date":9,"utc":true},{"year":2021,"month":5,"date":23,"utc":true},{"year":2021,"month":8,"date":6,"utc":true}]}},
            "y": {"field": "cfs", "type": "quantitative",
              "scale": {"domain": [0, 50], "range": [320, 85.7], "clamp": true, "nice": false},
              "axis": {"offset": -130.2, "values": [0,10,20,30,40,50], "grid": true, "domain": false, "ticks": false, "tickSize": 0, "labelPadding": 27, "labelFontSize": 25,
                "title": "Cubic Feet Per Second", "titleFont": "Liberation Sans", "titleFontSize": 26, "titleFontWeight": "normal", "titleX": -100, "titleY": 225, "titleAngle": -90, "titleAlign": "center", "titleBaseline": "alphabetic"}}
          }
        },
        {
          "transform": [{"filter": "datum.status === 'P'"}],
          "mark": {"type": "area", "fill": "#DEEAF6", "stroke": "#5B9BD5", "strokeWidth": 2.5},
          "encoding": {
            "x": {"field": "date", "type": "temporal",
              "scale": {"type": "utc", "domain": [{"year":2019,"month":10,"date":1,"utc":true},{"year":2021,"month":9,"date":5,"utc":true}], "range": [130.2, 776]},
              "axis": {"orient": "bottom", "offset": -111, "labels": true, "ticks": false, "tickSize": 0, "domain": false, "grid": false, "title": null,
                "labelAngle": -45, "labelAlign": "right", "labelBaseline": "middle", "labelPadding": 16, "labelFontSize": 17, "labelOverlap": false, "labelFlush": false, "labelExpr": "utcFormat(datum.value, '%-m/%-d/%Y')",
                "values": [{"year":2019,"month":10,"date":1,"utc":true},{"year":2019,"month":11,"date":20,"utc":true},{"year":2020,"month":1,"date":9,"utc":true},{"year":2020,"month":2,"date":28,"utc":true},{"year":2020,"month":4,"date":18,"utc":true},{"year":2020,"month":6,"date":7,"utc":true},{"year":2020,"month":7,"date":27,"utc":true},{"year":2020,"month":9,"date":15,"utc":true},{"year":2020,"month":11,"date":4,"utc":true},{"year":2020,"month":12,"date":24,"utc":true},{"year":2021,"month":2,"date":12,"utc":true},{"year":2021,"month":4,"date":3,"utc":true},{"year":2021,"month":5,"date":23,"utc":true},{"year":2021,"month":7,"date":12,"utc":true},{"year":2021,"month":8,"date":31,"utc":true}]}},
            "y": {"field": "cfs", "type": "quantitative",
              "scale": {"domain": [0, 50], "range": [320, 85.7], "clamp": true, "nice": false},
              "axis": {"offset": -130.2, "values": [0,10,20,30,40,50], "grid": true, "domain": false, "ticks": false, "tickSize": 0, "labelPadding": 27, "labelFontSize": 25,
                "title": "Cubic Feet Per Second", "titleFont": "Liberation Sans", "titleFontSize": 26, "titleFontWeight": "normal", "titleX": -100, "titleY": 225, "titleAngle": -90, "titleAlign": "center", "titleBaseline": "alphabetic"}}
          }
        }
      ],
      "resolve": {"axis": {"x": "independent"}}
    },
    {
      "width": 838, "height": 429,
      "title": {"text": "Muddy Creek at Arapahoe", "offset": -48.3, "dx": 0.7},
      "data": {"name": "arapahoe"},
      "layer": [
        {
          "transform": [{"filter": "datum.status === 'A'"}],
          "mark": {"type": "area", "fill": "#5B9BD5", "stroke": "#5B9BD5", "strokeWidth": 1.8},
          "encoding": {
            "x": {"field": "date", "type": "temporal",
              "scale": {"type": "utc", "domain": [{"year":2019,"month":10,"date":1,"utc":true},{"year":2021,"month":8,"date":25,"utc":true}], "range": [108, 798.5]},
              "axis": {"orient": "bottom", "offset": -95, "labels": false, "ticks": true, "tickSize": 6, "domain": true, "grid": false, "title": null,
                "values": [{"year":2019,"month":10,"date":1,"utc":true},{"year":2019,"month":11,"date":20,"utc":true},{"year":2020,"month":1,"date":9,"utc":true},{"year":2020,"month":2,"date":28,"utc":true},{"year":2020,"month":4,"date":18,"utc":true},{"year":2020,"month":6,"date":7,"utc":true},{"year":2020,"month":7,"date":27,"utc":true},{"year":2020,"month":9,"date":15,"utc":true},{"year":2020,"month":11,"date":4,"utc":true},{"year":2020,"month":12,"date":24,"utc":true},{"year":2021,"month":2,"date":12,"utc":true},{"year":2021,"month":4,"date":3,"utc":true},{"year":2021,"month":5,"date":23,"utc":true},{"year":2021,"month":7,"date":12,"utc":true}]}},
            "y": {"field": "cfs", "type": "quantitative",
              "scale": {"domain": [0, 50], "range": [334, 48.3], "clamp": true, "nice": false},
              "axis": {"offset": -108, "values": [0,10,20,30,40,50], "grid": true, "domain": false, "ticks": false, "tickSize": 0, "labelPadding": 22, "labelFontSize": 25,
                "title": "Cubic Feet Per Second", "titleFont": "Liberation Sans", "titleFontSize": 26, "titleFontWeight": "normal", "titleX": -75, "titleY": 229, "titleAngle": -90, "titleAlign": "center", "titleBaseline": "alphabetic"}}
          }
        },
        {
          "transform": [{"filter": "datum.status === 'P'"}],
          "mark": {"type": "area", "fill": "#DEEAF6", "stroke": "#5B9BD5", "strokeWidth": 1.8},
          "encoding": {
            "x": {"field": "date", "type": "temporal",
              "scale": {"type": "utc", "domain": [{"year":2019,"month":10,"date":1,"utc":true},{"year":2021,"month":8,"date":25,"utc":true}], "range": [108, 798.5]},
              "axis": {"orient": "bottom", "offset": -95, "labels": true, "ticks": false, "tickSize": 0, "domain": false, "grid": false, "title": null,
                "labelAngle": -45, "labelAlign": "right", "labelBaseline": "middle", "labelPadding": 16, "labelFontSize": 17, "labelOverlap": false, "labelFlush": false, "labelExpr": "utcFormat(datum.value, '%-m/%-d/%Y')",
                "values": [{"year":2019,"month":10,"date":1,"utc":true},{"year":2019,"month":11,"date":20,"utc":true},{"year":2020,"month":1,"date":9,"utc":true},{"year":2020,"month":2,"date":28,"utc":true},{"year":2020,"month":4,"date":18,"utc":true},{"year":2020,"month":6,"date":7,"utc":true},{"year":2020,"month":7,"date":27,"utc":true},{"year":2020,"month":9,"date":15,"utc":true},{"year":2020,"month":11,"date":4,"utc":true},{"year":2020,"month":12,"date":24,"utc":true},{"year":2021,"month":2,"date":12,"utc":true},{"year":2021,"month":4,"date":3,"utc":true},{"year":2021,"month":5,"date":23,"utc":true},{"year":2021,"month":7,"date":12,"utc":true}]}},
            "y": {"field": "cfs", "type": "quantitative",
              "scale": {"domain": [0, 50], "range": [334, 48.3], "clamp": true, "nice": false},
              "axis": {"offset": -108, "values": [0,10,20,30,40,50], "grid": true, "domain": false, "ticks": false, "tickSize": 0, "labelPadding": 22, "labelFontSize": 25,
                "title": "Cubic Feet Per Second", "titleFont": "Liberation Sans", "titleFontSize": 26, "titleFontWeight": "normal", "titleX": -75, "titleY": 229, "titleAngle": -90, "titleAlign": "center", "titleBaseline": "alphabetic"}}
          }
        }
      ],
      "resolve": {"axis": {"x": "independent"}}
    },
    {
      "width": 812, "height": 429,
      "title": {"text": "Muddy Creek at Furnas-Gosper County Line", "offset": -42.3, "dx": 46},
      "data": {"name": "muddyFG"},
      "layer": [
        {
          "transform": [{"filter": "datum.status === 'A'"}],
          "mark": {"type": "area", "fill": "#5B9BD5", "stroke": "#5B9BD5", "strokeWidth": 1.2},
          "encoding": {
            "x": {"field": "date", "type": "temporal",
              "scale": {"type": "utc", "domain": [{"year":2019,"month":10,"date":1,"utc":true},{"year":2021,"month":9,"date":5,"utc":true}], "range": [105.6, 781]},
              "axis": {"orient": "bottom", "offset": -95, "labels": false, "ticks": true, "tickSize": 6, "domain": true, "grid": false, "title": null,
                "values": [{"year":2019,"month":10,"date":1,"utc":true},{"year":2019,"month":11,"date":15,"utc":true},{"year":2019,"month":12,"date":30,"utc":true},{"year":2020,"month":2,"date":13,"utc":true},{"year":2020,"month":3,"date":29,"utc":true},{"year":2020,"month":5,"date":13,"utc":true},{"year":2020,"month":6,"date":27,"utc":true},{"year":2020,"month":8,"date":11,"utc":true},{"year":2020,"month":9,"date":25,"utc":true},{"year":2020,"month":11,"date":9,"utc":true},{"year":2020,"month":12,"date":24,"utc":true},{"year":2021,"month":2,"date":7,"utc":true},{"year":2021,"month":3,"date":24,"utc":true},{"year":2021,"month":5,"date":8,"utc":true},{"year":2021,"month":6,"date":22,"utc":true},{"year":2021,"month":8,"date":6,"utc":true}]}},
            "y": {"field": "cfs", "type": "quantitative",
              "scale": {"domain": [0, 40], "range": [334, 64], "clamp": true, "nice": false},
              "axis": {"offset": -105.6, "values": [0,10,20,30,40], "grid": true, "domain": false, "ticks": false, "tickSize": 0, "labelPadding": 18.6, "labelFontSize": 25,
                "title": "Cubic Feet per Second", "titleFont": "Liberation Sans", "titleFontSize": 26, "titleFontWeight": "normal", "titleX": -73.6, "titleY": 204, "titleAngle": -90, "titleAlign": "center", "titleBaseline": "alphabetic"}}
          }
        },
        {
          "transform": [{"filter": "datum.status === 'P'"}],
          "mark": {"type": "area", "fill": "#DEEAF6", "stroke": "#5B9BD5", "strokeWidth": 1.2},
          "encoding": {
            "x": {"field": "date", "type": "temporal",
              "scale": {"type": "utc", "domain": [{"year":2019,"month":10,"date":1,"utc":true},{"year":2021,"month":9,"date":5,"utc":true}], "range": [105.6, 781]},
              "axis": {"orient": "bottom", "offset": -95, "labels": true, "ticks": false, "tickSize": 0, "domain": false, "grid": false, "title": null,
                "labelAngle": -45, "labelAlign": "right", "labelBaseline": "middle", "labelPadding": 16, "labelFontSize": 17, "labelOverlap": false, "labelFlush": false, "labelExpr": "utcFormat(datum.value, '%-m/%-d/%Y')",
                "values": [{"year":2019,"month":10,"date":1,"utc":true},{"year":2019,"month":11,"date":20,"utc":true},{"year":2020,"month":1,"date":9,"utc":true},{"year":2020,"month":2,"date":28,"utc":true},{"year":2020,"month":4,"date":18,"utc":true},{"year":2020,"month":6,"date":7,"utc":true},{"year":2020,"month":7,"date":27,"utc":true},{"year":2020,"month":9,"date":15,"utc":true},{"year":2020,"month":11,"date":4,"utc":true},{"year":2020,"month":12,"date":24,"utc":true},{"year":2021,"month":2,"date":12,"utc":true},{"year":2021,"month":4,"date":3,"utc":true},{"year":2021,"month":5,"date":23,"utc":true},{"year":2021,"month":7,"date":12,"utc":true},{"year":2021,"month":8,"date":31,"utc":true}]}},
            "y": {"field": "cfs", "type": "quantitative",
              "scale": {"domain": [0, 40], "range": [334, 64], "clamp": true, "nice": false},
              "axis": {"offset": -105.6, "values": [0,10,20,30,40], "grid": true, "domain": false, "ticks": false, "tickSize": 0, "labelPadding": 18.6, "labelFontSize": 25,
                "title": "Cubic Feet per Second", "titleFont": "Liberation Sans", "titleFontSize": 26, "titleFontWeight": "normal", "titleX": -73.6, "titleY": 204, "titleAngle": -90, "titleAlign": "center", "titleBaseline": "alphabetic"}}
          }
        }
      ],
      "resolve": {"axis": {"x": "independent"}}
    }
  ]
}
